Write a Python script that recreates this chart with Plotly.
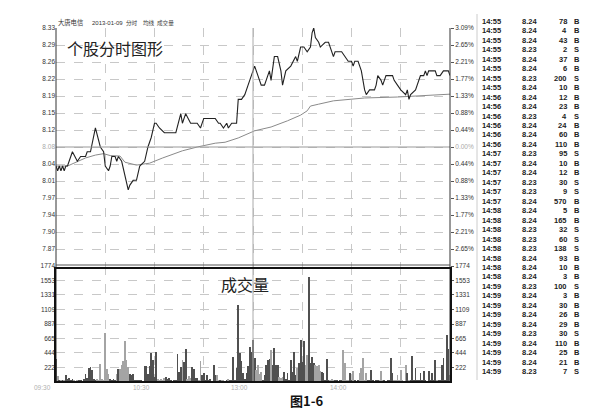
import numpy as np
import plotly.graph_objects as go

# ---------------- data ----------------
prev_close = 8.08

price_min = [0, 1, 2, 3, 4, 5, 6, 7, 10, 13,
             15, 18, 19, 21, 24, 27, 29, 30, 32, 33,
             34, 36, 37, 38, 40, 42, 44, 45, 47, 49,
             51, 54, 56, 58, 60, 61, 63, 66, 67, 73,
             76, 77, 79, 82, 86, 88, 90, 97, 99, 100,
             102, 104, 105, 107, 110, 111, 113, 115, 117, 119,
             121, 122, 125, 127, 128, 130, 131, 132, 133, 135,
             137, 138, 140, 143, 146, 147, 149, 150, 151, 153,
             155, 156, 157, 158, 160, 161, 164, 166, 168, 169,
             170, 174, 176, 178, 180, 181, 182, 184, 186, 188,
             189, 191, 194, 195, 196, 198, 199, 200, 201, 205,
             206, 208, 210, 213, 214, 215, 216, 219, 220, 222,
             224, 225, 226, 227, 231, 232, 234, 236, 239, 240]
price_val = [8.04, 8.03, 8.04, 8.03, 8.04, 8.03, 8.04, 8.04, 8.07, 8.05,
             8.06, 8.06, 8.07, 8.07, 8.12, 8.08, 8.07, 8.04, 8.03, 8.04,
             8.06, 8.06, 8.05, 8.06, 8.05, 8.02, 7.99, 8.00, 8.01, 8.01,
             8.04, 8.05, 8.08, 8.10, 8.13, 8.13, 8.12, 8.11, 8.11, 8.11,
             8.15, 8.13, 8.15, 8.13, 8.13, 8.12, 8.14, 8.14, 8.13, 8.13,
             8.12, 8.13, 8.12, 8.13, 8.13, 8.18, 8.18, 8.19, 8.21, 8.23,
             8.25, 8.24, 8.21, 8.21, 8.22, 8.24, 8.22, 8.25, 8.27, 8.27,
             8.24, 8.21, 8.24, 8.25, 8.27, 8.26, 8.29, 8.29, 8.29, 8.28,
             8.29, 8.32, 8.33, 8.31, 8.30, 8.29, 8.30, 8.30, 8.28, 8.27,
             8.28, 8.28, 8.27, 8.26, 8.26, 8.25, 8.26, 8.26, 8.24, 8.20,
             8.19, 8.20, 8.20, 8.21, 8.23, 8.22, 8.21, 8.22, 8.23, 8.23,
             8.22, 8.21, 8.20, 8.19, 8.20, 8.18, 8.19, 8.20, 8.21, 8.23,
             8.23, 8.24, 8.23, 8.24, 8.24, 8.23, 8.23, 8.24, 8.24, 8.23]

avg_min = [0, 7, 18, 24, 29, 33, 39, 42, 49, 57, 65, 77, 86, 97, 103, 111,
           121, 131, 141, 149, 153, 155, 160, 169, 188, 208, 240]
avg_val = [8.040, 8.040, 8.057, 8.063, 8.066, 8.062, 8.061, 8.048, 8.042, 8.046,
           8.057, 8.072, 8.080, 8.088, 8.090, 8.099, 8.114, 8.122, 8.135, 8.147,
           8.156, 8.166, 8.170, 8.177, 8.183, 8.185, 8.191]

volumes = [345, 90, 30, 25, 35, 20, 100, 40, 60, 30,
           40, 20, 15, 25, 30, 20, 15, 40, 125, 60,
           210, 228, 180, 40, 30, 45, 20, 280, 50, 30,
           750, 200, 125, 40, 30, 45, 20, 125, 200, 200,
           265, 315, 630, 340, 230, 125, 100, 125, 30, 25,
           35, 20, 30, 15, 245, 245, 125, 245, 440, 330,
           75, 455, 50, 30, 45, 20, 60, 80, 40, 55,
           20, 15, 30, 25, 430, 150, 230, 330, 305, 500,
           40, 90, 60, 230, 200, 60, 55, 20, 315, 100,
           140, 30, 110, 20, 50, 15, 255, 100, 110, 30,
           30, 20, 25, 15, 20, 40, 30, 20, 375, 30,
           215, 1175, 440, 315, 140, 40, 140, 240, 530, 465,
           645, 365, 190, 265, 120, 160, 30, 110, 255, 330,
           355, 495, 265, 515, 265, 255, 70, 60, 70, 160,
           40, 135, 30, 330, 160, 455, 110, 215, 290, 635,
           310, 620, 265, 415, 1600, 290, 380, 290, 265, 245,
           265, 165, 150, 140, 30, 345, 30, 20, 40, 25,
           20, 30, 15, 25, 20, 495, 295, 30, 20, 140,
           25, 165, 20, 15, 30, 140, 215, 365, 20, 140,
           30, 20, 190, 25, 15, 20, 30, 25, 165, 20,
           25, 15, 30, 20, 365, 140, 20, 30, 105, 20,
           190, 25, 15, 265, 140, 20, 30, 395, 25, 215,
           20, 30, 140, 25, 165, 20, 15, 165, 30, 140,
           25, 330, 20, 30, 25, 265, 365, 30, 720, 500,
           110]

price_labels = ["8.33", "8.29", "8.26", "8.22", "8.19", "8.15", "8.12", "8.08",
                "8.04", "8.01", "7.97", "7.94", "7.90", "7.87"]
pct_labels = ["3.09%", "2.65%", "2.21%", "1.77%", "1.33%", "0.88%", "0.44%", "0.00%",
              "0.44%", "0.88%", "1.33%", "1.77%", "2.21%", "2.65%"]
vol_labels = ["222", "444", "665", "887", "1109", "1331", "1553", "1774"]
vol_ticks = [222, 444, 665, 887, 1109, 1331, 1553, 1774]
time_ticks = [0, 30, 60, 90, 120, 150, 180, 210, 240]
time_label_ticks = [0, 60, 120, 180]
time_labels = ["09:30", "10:30", "13:00", "14:00"]

trade_times = ["14:55", "14:55", "14:55", "14:55", "14:55", "14:55", "14:55", "14:55",
               "14:56", "14:56", "14:56", "14:56", "14:56", "14:56",
               "14:57", "14:57", "14:57", "14:57", "14:57", "14:57",
               "14:58", "14:58", "14:58", "14:58", "14:58", "14:58", "14:58", "14:58",
               "14:59", "14:59", "14:59", "14:59", "14:59", "14:59", "14:59", "14:59", "14:59", "14:59"]
trade_prices = ["8.24", "8.24", "8.24", "8.23", "8.24", "8.24", "8.23", "8.24",
                "8.24", "8.24", "8.23", "8.24", "8.24", "8.24",
                "8.23", "8.24", "8.24", "8.23", "8.23", "8.24",
                "8.24", "8.24", "8.23", "8.23", "8.23", "8.24", "8.24", "8.24",
                "8.23", "8.24", "8.24", "8.24", "8.24", "8.23", "8.24", "8.24", "8.24", "8.23"]
trade_vols = [78, 4, 43, 2, 37, 6, 200, 10,
              12, 23, 4, 24, 60, 110,
              95, 10, 12, 30, 9, 570,
              5, 165, 32, 60, 138, 93, 10, 3,
              100, 3, 30, 26, 29, 30, 110, 25, 21, 7]
trade_sides = ["B", "B", "B", "S", "B", "B", "S", "B",
               "B", "B", "S", "B", "B", "B",
               "S", "B", "B", "S", "S", "B",
               "B", "B", "S", "S", "S", "B", "B", "B",
               "S", "B", "B", "B", "B", "S", "B", "B", "B", "S"]

# ---------------- layout helpers ----------------
W, H = 609, 420
L, R, T, B = 48, 442, 20, 374
def px_x(x):
    return (x - L) / (R - L)
def px_y(y):
    return (B - y) / (B - T)

split = px_y(258)
top_price = 8.33
step = (top_price - prev_close) / 7
price_ticks = [prev_close + step * k for k in range(7, -7, -1)]

minutes = list(range(len(volumes)))
interp = np.interp(minutes, price_min, price_val)
bar_colors = ["#505050" if i == 0 or interp[i] >= interp[i - 1] else "#a4a4a4" for i in minutes]

lbl_font = dict(family="Liberation Sans", size=6.5, color="#333")
grid_col = "#c8c8c8"

fig = go.Figure()
fig.add_trace(go.Scatter(x=avg_min, y=avg_val, mode="lines",
                         line=dict(color="#8a8a8a", width=1), xaxis="x", yaxis="y",
                         hoverinfo="skip", showlegend=False))
fig.add_trace(go.Scatter(x=price_min, y=price_val, mode="lines",
                         line=dict(color="#222", width=1.1), xaxis="x", yaxis="y",
                         hoverinfo="skip", showlegend=False))
fig.add_trace(go.Scatter(x=[0], y=[prev_close], mode="markers", opacity=0,
                         xaxis="x", yaxis="y3", hoverinfo="skip", showlegend=False))
fig.add_trace(go.Bar(x=minutes, y=volumes, marker=dict(color=bar_colors, line=dict(width=0)),
                     width=0.5, xaxis="x2", yaxis="y2", hoverinfo="skip", showlegend=False))
fig.add_trace(go.Scatter(x=[0], y=[0], mode="markers", opacity=0,
                         xaxis="x2", yaxis="y4", hoverinfo="skip", showlegend=False))

price_ticktext = [("<span style='color:#aaa'>%s</span>" % t) if t == "8.08" else t for t in price_labels]
pct_ticktext = [("<span style='color:#aaa'>%s</span>" % t) if t == "0.00%" else t for t in pct_labels]

fig.update_layout(
    width=W, height=H,
    margin=dict(l=L, r=W - R, t=T, b=H - B),
    paper_bgcolor="white", plot_bgcolor="white",
    bargap=0,
    xaxis=dict(domain=[0, 1], range=[0, 240], anchor="y", tickvals=time_ticks,
               showticklabels=False, ticks="", showgrid=True, gridcolor=grid_col,
               griddash="dash", gridwidth=0.7, zeroline=False),
    yaxis=dict(domain=[split, 1], range=[prev_close - 0.25, top_price], anchor="x",
               tickvals=price_ticks, ticktext=price_ticktext, tickfont=lbl_font,
               ticks="", showgrid=True, gridcolor=grid_col, griddash="dash",
               gridwidth=0.7, zeroline=False),
    yaxis3=dict(overlaying="y", side="right", anchor="x", range=[prev_close - 0.25, top_price],
                tickvals=price_ticks, ticktext=pct_ticktext, tickfont=lbl_font,
                ticks="outside", ticklen=3, tickcolor="#555", showgrid=False, zeroline=False),
    xaxis2=dict(domain=[0, 1], range=[0, 240], anchor="y2", tickvals=time_ticks,
                showticklabels=False,
                ticks="", showgrid=True, gridcolor=grid_col, griddash="dash",
                gridwidth=0.7, zeroline=False),
    yaxis2=dict(domain=[0, split], range=[0, 1774], anchor="x2",
                tickvals=vol_ticks, ticktext=vol_labels, tickfont=lbl_font,
                ticks="", showgrid=True, gridcolor=grid_col, griddash="dash",
                gridwidth=0.7, zeroline=False),
    yaxis4=dict(overlaying="y2", side="right", anchor="x2", range=[0, 1774],
                tickvals=vol_ticks, ticktext=vol_labels, tickfont=lbl_font,
                ticks="outside", ticklen=3, tickcolor="#555", showgrid=False, zeroline=False),
)

shapes = []
shapes.append(dict(type="line", xref="paper", yref="y", x0=0, x1=1, y0=prev_close, y1=prev_close,
                   line=dict(color="#999", width=1)))
shapes.append(dict(type="line", xref="x", yref="paper", x0=120, x1=120, y0=0, y1=1,
                   line=dict(color="#aaa", width=1)))
shapes.append(dict(type="line", xref="paper", yref="paper", x0=0, x1=0, y0=0, y1=1,
                   line=dict(color="#333", width=1)))
shapes.append(dict(type="line", xref="paper", yref="paper", x0=1, x1=1, y0=0, y1=1,
                   line=dict(color="#333", width=1)))
shapes.append(dict(type="line", xref="paper", yref="paper", x0=0, x1=1, y0=px_y(257), y1=px_y(257),
                   line=dict(color="#555", width=1)))
shapes.append(dict(type="rect", xref="paper", yref="paper", x0=px_x(47), x1=px_x(443),
                   y0=px_y(374), y1=px_y(260), line=dict(color="#111", width=2)))
shapes.append(dict(type="line", xref="paper", yref="paper", x0=px_x(469), x1=px_x(469),
                   y0=px_y(372), y1=px_y(6), line=dict(color="#ccc", width=1)))
fig.update_layout(shapes=shapes)

ann = []
def text(x, y, s, size, color="#222", anchor="left", family="Noto Sans CJK SC", bold=False):
    ann.append(dict(xref="paper", yref="paper", x=px_x(x), y=px_y(y), text=("<b>%s</b>" % s) if bold else s,
                    showarrow=False, xanchor=anchor, yanchor="middle",
                    font=dict(family=family, size=size, color=color)))

# time labels under the volume panel, ending just left of their grid line
for t, s in zip(time_label_ticks, time_labels):
    ann.append(dict(xref="x2", yref="paper", x=t, y=px_y(379), text=s, showarrow=False,
                    xanchor="right", yanchor="middle", xshift=-3,
                    font=dict(family="Liberation Sans", size=6.5, color="#b0b0b0")))

# header
text(48, 15, "大唐电信", 6.3, "#333")
text(82, 15, "2013-01-09", 6, "#333", family="Liberation Sans")
text(116, 15, "分时", 5.6, "#333")
text(133, 15, "均线", 5.6, "#333")
text(147, 15, "成交量", 5.6, "#444")
# callouts
text(107, 40, "个股分时图形", 16, "#222", anchor="center")
text(237, 276, "成交量", 16, "#222", anchor="center")
# caption
text(298, 392, "图1-6", 13, "#111", anchor="center", bold=True)

# trade list
for i in range(len(trade_times)):
    y = 13.3 + i * 9.47
    f = "Liberation Sans"
    text(472, y, trade_times[i], 7.5, "#222", family=f, bold=True)
    text(512, y, trade_prices[i], 7.5, "#222", family=f, bold=True)
    text(561, y, str(trade_vols[i]), 7.5, "#222", anchor="right", family=f, bold=True)
    text(564, y, trade_sides[i], 7.5, "#222", family=f, bold=True)

fig.update_layout(annotations=ann)
fig.write_html("out.html")
